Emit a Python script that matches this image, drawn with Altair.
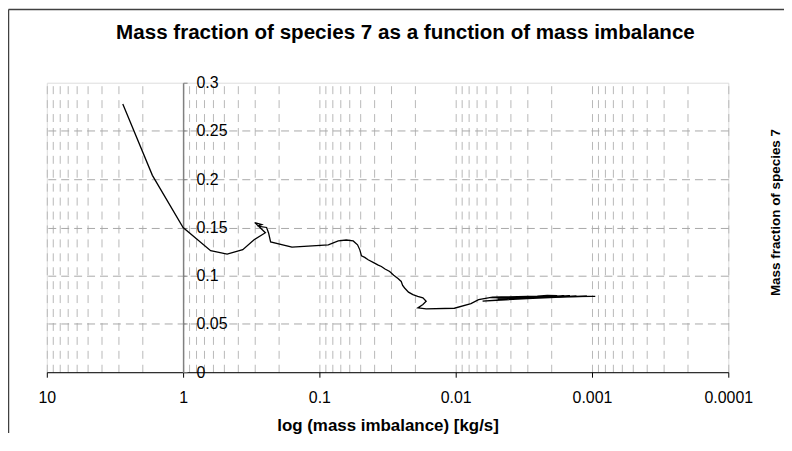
import altair as alt
import pandas as pd

# Data (mass imbalance in kg/s, mass fraction)
x_imbalance = [2.77, 1.68, 1.00, 0.628, 0.475, 0.365, 0.303, 0.249, 0.298, 0.265,
               0.284, 0.244, 0.236, 0.228, 0.159, 0.086, 0.0727, 0.0635, 0.0565, 0.0525,
               0.0505, 0.0491, 0.0465, 0.0439, 0.0400, 0.0370, 0.0351, 0.0330, 0.0305, 0.0285,
               0.0265, 0.0251, 0.0245, 0.0237, 0.0222, 0.0206, 0.0190, 0.0174, 0.01647, 0.0174,
               0.01894, 0.01647, 0.01022, 0.00773, 0.00679, 0.00537, 0.00252, 0.00213, 0.0018, 0.00635,
               0.00298, 0.0014, 0.00493, 0.00196, 0.00109, 0.00353, 0.00152, 0.00252, 0.00118, 0.00298,
               0.00560, 0.00160, 0.00420, 0.00130, 0.00330, 0.00100, 0.00270, 0.00145, 0.00380, 0.00105,
               0.000946]
y_fraction = [0.278, 0.204, 0.150, 0.126, 0.1224, 0.127, 0.137, 0.1446, 0.155, 0.153,
              0.1515, 0.150, 0.1443, 0.135, 0.1296, 0.132, 0.136, 0.137, 0.136, 0.132,
              0.1268, 0.1206, 0.119, 0.1165, 0.1135, 0.111, 0.1096, 0.107, 0.1044, 0.1005,
              0.097, 0.0941, 0.090, 0.0873, 0.083, 0.0804, 0.0785, 0.0770, 0.0735, 0.0701,
              0.0667, 0.0657, 0.0663, 0.0711, 0.0753, 0.0778, 0.0789, 0.0797, 0.0794, 0.0737,
              0.0763, 0.0784, 0.0758, 0.0778, 0.0789, 0.0768, 0.0778, 0.0773, 0.0784, 0.0771,
              0.0772, 0.0790, 0.0770, 0.0788, 0.0775, 0.0787, 0.0780, 0.0792, 0.0776, 0.0785,
              0.0786]
order_idx = list(range(len(x_imbalance)))

x_decades = [10, 1, 0.1, 0.01, 0.001, 0.0001]
x_grid = [m * 10.0 ** k for k in range(-4, 1) for m in range(1, 10)] + [10]
y_ticks = [0, 0.05, 0.1, 0.15, 0.2, 0.25, 0.3]
y_grid = [0.05, 0.1, 0.15, 0.2, 0.25]

df = pd.DataFrame({"x": x_imbalance, "y": y_fraction, "i": order_idx})

W, H = 685, 291
PAD = {"left": 39, "top": 74, "right": 56, "bottom": 61}
FONT = "Liberation Sans"

xscale = alt.Scale(type="log", domain=[0.0001, 10], reverse=True, nice=False)
yscale = alt.Scale(domain=[0, 0.3], nice=False, zero=False)

grid_layer = alt.Chart(df).mark_line(opacity=0).encode(
    x=alt.X("x:Q", scale=xscale, title="",
            axis=alt.Axis(orient="top", values=x_grid, grid=True, gridDash=[8, 6],
                          gridColor="#b8b8b8", gridWidth=1, labels=False, ticks=False,
                          domain=False)),
    y=alt.Y("y:Q", scale=yscale, title="",
            axis=alt.Axis(orient="left", values=y_grid, grid=True, gridDash=[8, 5],
                          gridColor="#a8a8a8", gridWidth=1, labels=False, ticks=False,
                          domain=False)),
    order="i:Q",
)

line = alt.Chart(df).mark_line(color="black", strokeWidth=1.3).encode(
    x=alt.X("x:Q", scale=xscale, title="log (mass imbalance) [kg/s]",
            axis=alt.Axis(orient="bottom", values=x_decades, format="~g", grid=False,
                          domain=True, domainColor="black", domainWidth=1,
                          tickColor="black", tickSize=5, labelFlush=False,
                          labelFont=FONT, labelFontSize=16, labelColor="black",
                          labelBaseline="middle", labelPadding=20,
                          titleFont=FONT, titleFontSize=17, titleFontWeight="bold",
                          titleColor="black", titleY=54, titleBaseline="middle")),
    y=alt.Y("y:Q", scale=yscale, title="Mass fraction of species 7",
            axis=alt.Axis(orient="right", offset=-548, values=y_ticks, format="~g",
                          grid=False, domainColor="#808080", domainWidth=1.5,
                          tickColor="#808080", tickSize=4, labelPadding=9,
                          labelFont=FONT, labelFontSize=16, labelColor="black",
                          titleFont=FONT, titleFontSize=13.5, titleFontWeight="bold",
                          titleColor="black", titleAngle=270, titleX=595, titleY=130,
                          titleAlign="center", titleBaseline="middle")),
    order="i:Q",
)

frame_df = pd.DataFrame({"k": [0]})
frame_left = alt.Chart(frame_df).mark_rule(color="#404040", strokeWidth=1.5).encode(
    x=alt.value(-38.5), y=alt.value(-73.5), y2=alt.value(H + PAD["bottom"]))
frame_top = alt.Chart(frame_df).mark_rule(color="#404040", strokeWidth=1.5).encode(
    x=alt.value(-38.5), x2=alt.value(W + PAD["right"]), y=alt.value(-73.5))

chart = alt.layer(grid_layer, line, frame_left, frame_top).resolve_axis(
    x="independent", y="independent"
).properties(
    width=W, height=H, padding=PAD,
    autosize=alt.AutoSizeParams(type="none"),
    title=alt.TitleParams(
        text="Mass fraction of species 7 as a function of mass imbalance",
        font=FONT, fontSize=20.7, fontWeight="bold", color="black",
        anchor="middle", frame="group", dx=18, offset=-51, baseline="alphabetic"),
).configure_view(stroke="#808080", strokeWidth=1).configure(background="white")

chart.save("out.html", embed_options={"renderer": "svg", "actions": False})
